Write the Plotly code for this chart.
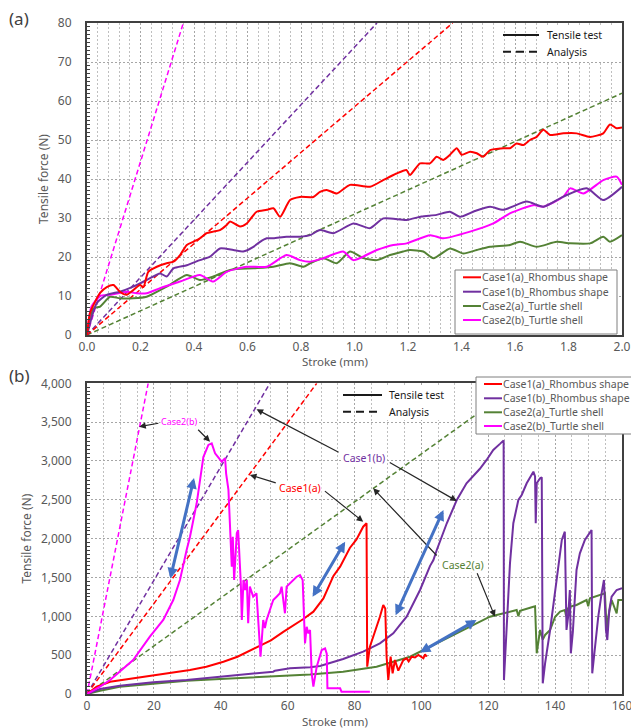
import plotly.graph_objects as go

# ======================= DATA =======================
SERIES = ["Case1(a)_Rhombus shape", "Case1(b)_Rhombus shape",
          "Case2(a)_Turtle shell", "Case2(b)_Turtle shell"]

# ---- Panel (a): stroke 0-2 mm, tensile test (stroke mm, force N)
A_CASE1A_TEST = [(0, 0), (0.011, 5.6), (0.03, 8.5), (0.049, 10.8), (0.074, 12.3), (0.099, 12.8),
                 (0.123, 11.1), (0.148, 10.3), (0.173, 11.5), (0.198, 12.8), (0.211, 12.3),
                 (0.229, 16.2), (0.261, 17.5), (0.298, 18.4), (0.323, 18.8), (0.348, 20.5),
                 (0.373, 23.1), (0.397, 23.9), (0.422, 24.8), (0.447, 26.1), (0.472, 26.5),
                 (0.497, 26.9), (0.522, 28.2), (0.535, 29.1), (0.572, 27.8), (0.597, 28.6),
                 (0.634, 31.6), (0.672, 32.1), (0.697, 32.5), (0.722, 30.3), (0.759, 34.6),
                 (0.796, 35.4), (0.846, 35.4), (0.871, 36.7), (0.896, 37.2), (0.934, 36.3),
                 (0.983, 38.5), (1.058, 38.0), (1.107, 39.7), (1.157, 41.4), (1.194, 42.3),
                 (1.207, 41.0), (1.245, 44.0), (1.282, 44.0), (1.307, 45.7), (1.332, 44.9),
                 (1.357, 46.2), (1.382, 47.9), (1.401, 46.2), (1.432, 47.0), (1.457, 46.6),
                 (1.481, 45.7), (1.507, 47.4), (1.556, 47.9), (1.581, 47.9), (1.606, 49.1),
                 (1.631, 48.7), (1.656, 50.0), (1.681, 50.8), (1.706, 52.6), (1.731, 51.3),
                 (1.781, 51.7), (1.831, 51.7), (1.880, 50.8), (1.930, 51.7), (1.955, 54.0),
                 (1.980, 53.0), (2.0, 53.2)]
A_CASE1B_TEST = [(0, 0), (0.036, 8.1), (0.074, 10.3), (0.123, 11.1), (0.173, 12.4), (0.223, 14.1),
                 (0.273, 15.8), (0.298, 15.0), (0.323, 17.1), (0.373, 17.9), (0.422, 19.2),
                 (0.460, 20.1), (0.497, 22.2), (0.547, 21.8), (0.584, 21.4), (0.622, 22.6),
                 (0.647, 23.9), (0.672, 24.8), (0.697, 24.8), (0.746, 25.2), (0.796, 25.2),
                 (0.834, 25.6), (0.871, 26.9), (0.921, 26.1), (0.996, 28.6), (1.058, 27.4),
                 (1.108, 29.9), (1.195, 29.5), (1.25, 30.4), (1.307, 30.8), (1.357, 31.6),
                 (1.394, 30.3), (1.45, 31.8), (1.507, 32.9), (1.556, 32.1), (1.644, 34.2),
                 (1.706, 32.9), (1.781, 35.5), (1.868, 37.6), (1.930, 34.6), (2.0, 38.0)]
A_CASE2A_TEST = [(0, 0), (0.024, 6.8), (0.049, 7.3), (0.086, 9.8), (0.123, 9.4), (0.173, 9.4),
                 (0.223, 9.8), (0.298, 12.4), (0.373, 15.4), (0.422, 14.1), (0.472, 15.0),
                 (0.535, 16.7), (0.622, 17.1), (0.697, 17.5), (0.759, 18.4), (0.809, 17.5),
                 (0.834, 18.4), (0.884, 19.7), (0.934, 18.4), (0.983, 21.4), (1.033, 19.7),
                 (1.083, 19.2), (1.133, 20.5), (1.182, 21.4), (1.207, 21.8), (1.257, 21.4),
                 (1.295, 19.7), (1.357, 22.2), (1.407, 20.9), (1.457, 21.8), (1.507, 22.6),
                 (1.581, 23.1), (1.619, 23.9), (1.681, 22.6), (1.756, 23.9), (1.806, 23.5),
                 (1.881, 23.5), (1.930, 25.2), (1.955, 23.9), (2.0, 25.6)]
A_CASE2B_TEST = [(0, 0), (0.017, 7.3), (0.049, 10.0), (0.086, 10.3), (0.148, 11.1), (0.186, 10.7),
                 (0.223, 10.7), (0.273, 12.0), (0.348, 13.7), (0.422, 15.4), (0.472, 13.7),
                 (0.522, 16.2), (0.597, 17.5), (0.672, 17.5), (0.746, 20.5), (0.796, 19.2),
                 (0.834, 18.8), (0.884, 19.7), (0.958, 21.4), (0.996, 19.2), (1.083, 21.8),
                 (1.145, 23.1), (1.195, 23.5), (1.283, 25.6), (1.332, 24.8), (1.432, 26.5),
                 (1.519, 28.6), (1.581, 31.2), (1.669, 33.3), (1.706, 32.9), (1.781, 35.5),
                 (1.806, 37.6), (1.856, 36.3), (1.930, 39.7), (1.980, 40.6), (2.0, 38.5)]
# analysis (linear) for panel (a)
A_CASE1A_ANA = [(0, 0), (1.367, 80)]
A_CASE1B_ANA = [(0, 0), (1.084, 80)]
A_CASE2A_ANA = [(0, 0), (2.0, 62)]
A_CASE2B_ANA = [(0, 0), (0.36, 80)]

# ---- Panel (b): stroke 0-160 mm, tensile test (stroke mm, force N)
B_CASE1A_TEST = [(0, 0), (2.9, 94), (6.9, 158), (13.8, 202), (19.8, 232), (27.8, 287), (30.8, 309),
                 (35.7, 351), (40.8, 416), (45.0, 480), (50.7, 600), (55.0, 690), (58.7, 800),
                 (64.7, 965), (67.7, 1060), (69.7, 1170), (70.7, 1230), (73.7, 1520), (75.7, 1640),
                 (78.6, 1880), (80.6, 1990), (82.6, 2154), (83.6, 2198), (83.8, 351), (84.6, 609),
                 (87.6, 995), (88.6, 1146), (89.2, 1100), (89.6, 480), (90.1, 180), (90.8, 480),
                 (91.4, 266), (92.1, 438), (93.1, 300), (93.6, 351), (94.6, 438), (95.6, 459),
                 (96.2, 420), (97.1, 480), (98.1, 470), (99.1, 502), (100.6, 459), (101.1, 510),
                 (101.6, 480)]
B_CASE1B_TEST = [(0, 0), (3.9, 64), (9.8, 107), (19.8, 150), (29.8, 180), (39.8, 223), (49.7, 266),
                 (55.7, 287), (56.2, 300), (60.7, 330), (66.7, 345), (69.7, 360), (76.6, 450),
                 (79.6, 495), (82.6, 545), (87.6, 653), (91.6, 781), (93.6, 890), (95.6, 995),
                 (99.6, 1339), (102.6, 1650), (103.6, 1725), (104.6, 1854), (107.6, 2198),
                 (110.6, 2498), (113.5, 2713), (117.5, 2900), (119.5, 3013), (121.5, 3142),
                 (123.5, 3220), (124.6, 3265), (124.7, 180), (126.5, 1682), (127.5, 2198),
                 (129.0, 2498), (130.0, 2562), (131.5, 2713), (133.5, 2862), (134.0, 2800),
                 (134.2, 2198), (134.5, 2713), (135.5, 2777), (136.0, 2790), (136.3, 138),
                 (137.0, 395), (138.5, 824), (140.0, 1339), (140.9, 1682), (142.0, 1983),
                 (142.9, 2090), (143.2, 1382), (143.4, 824), (143.9, 1000), (144.4, 1339),
                 (144.7, 524), (145.3, 800), (146.4, 1597), (147.4, 1811), (148.9, 1983),
                 (150.4, 2090), (150.9, 2111), (151.1, 266), (151.9, 609), (152.9, 995),
                 (153.9, 1296), (154.6, 1468), (155.2, 824), (155.6, 695), (156.2, 1081),
                 (156.9, 1253), (158.4, 1339), (160.0, 1361)]
B_CASE2A_TEST = [(0, 0), (3.9, 43), (9.8, 94), (19.8, 137), (29.8, 172), (39.8, 193), (49.7, 215),
                 (59.7, 236), (66.7, 250), (76.6, 287), (86.6, 351), (96.6, 480), (106.5, 695),
                 (114.5, 866), (120.5, 995), (122.5, 1017), (124.5, 1039), (128.5, 1081),
                 (129.0, 1000), (129.5, 1070), (133.5, 1124), (134.0, 1130), (134.5, 524),
                 (135.5, 824), (136.3, 700), (137.0, 760), (138.5, 824), (140.0, 995),
                 (141.5, 1060), (142.9, 1081), (143.3, 1000), (143.6, 1090), (144.4, 1124),
                 (146.4, 1146), (149.4, 1210), (149.9, 1130), (150.4, 1232), (153.4, 1275),
                 (154.9, 1296), (155.4, 824), (155.9, 995), (156.9, 1210), (158.4, 1039),
                 (158.9, 1210), (160.0, 1210)]
B_CASE2B_TEST = [(0, 0), (3.9, 94), (6.9, 180), (13.8, 438), (18.8, 738), (22.8, 953), (25.8, 1210),
                 (27.8, 1468), (29.8, 1854), (30.8, 2025), (32.8, 2455), (33.8, 2750), (34.8, 3050),
                 (36.3, 3206), (37.3, 3227), (38.3, 3099), (39.3, 3050), (40.3, 2991), (41.3, 3035),
                 (41.6, 2841), (42.3, 2627), (42.8, 2025), (43.3, 1639), (43.6, 2025), (44.0, 1468),
                 (44.8, 2069), (45.2, 2111), (46.0, 1425), (46.3, 953), (46.8, 1468), (47.3, 1339),
                 (47.8, 1468), (48.2, 910), (48.7, 1382), (49.2, 1300), (49.7, 1253), (50.7, 1296),
                 (51.9, 480), (52.7, 953), (53.2, 850), (53.7, 953), (54.7, 1081), (55.7, 1210),
                 (56.7, 1253), (57.7, 1296), (58.2, 1382), (59.2, 1039), (59.7, 1382), (61.7, 1468),
                 (62.7, 1510), (63.7, 1532), (64.5, 1468), (64.9, 995), (65.2, 653), (65.7, 866),
                 (66.2, 780), (66.7, 824), (67.2, 266), (67.7, 94), (68.7, 351), (70.2, 566),
                 (71.2, 588), (71.7, 520), (71.9, 73), (75.7, 73), (76.1, 30), (84.6, 30)]
# analysis (linear) for panel (b)
B_CASE1A_ANA = [(0, 0), (68.7, 4000)]
B_CASE1B_ANA = [(0, 0), (54.7, 4000)]
B_CASE2A_ANA = [(0, 0), (129.4, 4000)]
B_CASE2B_ANA = [(0, 0), (18.3, 4000)]

# ======================= STYLE / LAYOUT =======================
COLORS = ["#FF0000", "#7030A0", "#548235", "#FF00FF"]
FONT = "Noto Sans"
W, H = 631, 728
ML, MR, MT, MB = 87, 9, 23, 34
PW, PH = W - ML - MR, H - MT - MB


def px(x):
    """window pixel x -> paper"""
    return (x - ML) / PW


def py(y):
    """window pixel y -> paper"""
    return (H - MB - y) / PH


def split(pairs):
    return [p[0] for p in pairs], [p[1] for p in pairs]


fig = go.Figure()
A_TEST = [A_CASE1A_TEST, A_CASE1B_TEST, A_CASE2A_TEST, A_CASE2B_TEST]
A_ANA = [A_CASE1A_ANA, A_CASE1B_ANA, A_CASE2A_ANA, A_CASE2B_ANA]
B_TEST = [B_CASE1A_TEST, B_CASE1B_TEST, B_CASE2A_TEST, B_CASE2B_TEST]
B_ANA = [B_CASE1A_ANA, B_CASE1B_ANA, B_CASE2A_ANA, B_CASE2B_ANA]

for panel, (tests, anas, xa, ya) in enumerate([(A_TEST, A_ANA, "x", "y"), (B_TEST, B_ANA, "x2", "y2")]):
    for i in [2, 3, 1, 0]:
        x, y = split(anas[i])
        fig.add_trace(go.Scatter(x=x, y=y, mode="lines", xaxis=xa, yaxis=ya, showlegend=False,
                                 name=SERIES[i] + " (Analysis)",
                                 line=dict(color=COLORS[i], width=1.5, dash="5px,3px")))
    for i in [2, 3, 1, 0] if panel == 0 else [2, 1, 0, 3]:
        x, y = split(tests[i])
        fig.add_trace(go.Scatter(x=x, y=y, mode="lines", xaxis=xa, yaxis=ya, showlegend=False,
                                 name=SERIES[i] + " (Tensile test)",
                                 line=dict(color=COLORS[i], width=2,
                                           shape="spline" if panel == 0 else "linear",
                                           smoothing=0.6)))

GRID = dict(showgrid=True, gridcolor="#A6A6A6", griddash="2px,2px", gridwidth=1)
AX = dict(showline=True, linecolor="#404040", linewidth=2, mirror=True, zeroline=False,
          automargin=False, ticks="", tickfont=dict(family=FONT, size=12, color="#595959"))
ytitle = dict(text="Tensile force (N)", font=dict(family=FONT, size=12, color="#595959"), standoff=7)

fig.update_layout(
    width=W, height=H, margin=dict(l=ML, r=MR, t=MT, b=MB, autoexpand=False),
    plot_bgcolor="white", paper_bgcolor="white", font=dict(family=FONT),
    xaxis=dict(domain=[0, 1], anchor="y", range=[0, 2], dtick=0.2, tickformat=".1f",
               ticklabelstandoff=0, ticklabeloverflow="allow",
               minor=dict(dtick=0.04, showgrid=True, gridcolor="#BFBFBF", griddash="2px,2px"),
               **GRID, **AX),
    yaxis=dict(domain=[py(335), 1], anchor="x", range=[0, 80], dtick=10, title=ytitle,
               ticklabelstandoff=11,
               minor=dict(dtick=1, ticks="inside", ticklen=3, tickcolor="#404040", showgrid=False),
               **GRID, **AX),
    xaxis2=dict(domain=[0, 1], anchor="y2", range=[0, 160], dtick=20, tickformat="d",
                ticklabelstandoff=0, ticklabeloverflow="allow",
                minor=dict(dtick=5, showgrid=True, gridcolor="#BFBFBF", griddash="2px,2px"),
                **GRID, **AX),
    yaxis2=dict(domain=[0, py(383.3)], anchor="x2", range=[0, 4000], dtick=500, tickformat=",",
                title=ytitle, ticklabelstandoff=11,
                minor=dict(dtick=50, ticks="inside", ticklen=3, tickcolor="#404040", showgrid=False),
                **GRID, **AX),
)

shapes, annos = [], []


def rect(x0, y0, x1, y1, border=True):
    shapes.append(dict(type="rect", xref="paper", yref="paper", layer="above",
                       x0=px(x0), x1=px(x1), y0=py(y1), y1=py(y0), fillcolor="white",
                       line=dict(color="#7F7F7F" if border else "rgba(0,0,0,0)", width=1)))


def item(x0, x1, yc, text, color, dash, size, tcolor, tx):
    shapes.append(dict(type="line", xref="paper", yref="paper", layer="above",
                       x0=px(x0), x1=px(x1), y0=py(yc), y1=py(yc),
                       line=dict(color=color, width=2, dash=dash)))
    annos.append(dict(xref="paper", yref="paper", x=px(tx), y=py(yc), text=text, showarrow=False,
                      xanchor="left", yanchor="middle",
                      font=dict(family=FONT, size=size, color=tcolor)))


# Panel (a) legends
rect(543, 26, 620, 62, border=False)
item(503, 539, 35, "Tensile test", "#1A1A1A", "solid", 10.5, "#1A1A1A", 545)
item(503, 539, 51.7, "Analysis", "#1A1A1A", "8px,5px", 10.5, "#1A1A1A", 545)
rect(455, 270, 617, 334)
for k, yc in enumerate([277.3, 291.7, 306, 320]):
    item(463, 481, yc, SERIES[k], COLORS[k], "solid", 10.5, "#595959", 480)

# Panel (b) legends
rect(387, 386, 447, 420, border=False)
item(343, 382, 395, "Tensile test", "#1A1A1A", "solid", 10.5, "#1A1A1A", 387)
item(343, 382, 411.7, "Analysis", "#1A1A1A", "8px,5px", 10.5, "#1A1A1A", 387)
rect(476, 377, 645, 434)
for k, yc in enumerate([384, 398.3, 412.3, 426]):
    item(484, 502, yc, SERIES[k], COLORS[k], "solid", 10.5, "#595959", 501)

# panel labels and x-axis titles
for txt, xx, yy in [("(a)", 19, 19), ("(b)", 19, 375.5)]:
    annos.append(dict(xref="paper", yref="paper", x=px(xx), y=py(yy), text=txt, showarrow=False,
                      xanchor="center", yanchor="middle", font=dict(family=FONT, size=17, color="#404040")))
for yy in [361, 721]:
    annos.append(dict(xref="paper", yref="paper", x=px(335), y=py(yy), text="Stroke (mm)",
                      showarrow=False, xanchor="center", yanchor="middle",
                      font=dict(family=FONT, size=11.5, color="#595959")))

# Panel (b) case labels (text) and pointer arrows (data coords of panel b)
LABELS = [("Case2(b)", 27.8, 3508, COLORS[3], 9),
          ("Case1(a)", 63.8, 2656, COLORS[0], 10.5),
          ("Case1(b)", 82.8, 3034, COLORS[1], 10.5),
          ("Case2(a)", 112.3, 1661, COLORS[2], 10.5)]
for t, xx, yy, c, s in LABELS:
    annos.append(dict(xref="x2", yref="y2", x=xx, y=yy, text=t, showarrow=False, bgcolor="white",
                      borderpad=0, font=dict(family=FONT, size=s, color=c)))

POINTERS = [((21.8, 3489), (15.6, 3442)), ((32.8, 3421), (36.8, 3248)),
            ((56.9, 2712), (48.7, 2820)), ((70.7, 2627), (82.6, 2218)),
            ((75.7, 3103), (50.7, 3665)), ((90.1, 2991), (110.6, 2485)),
            ((105.0, 1764), (85.6, 2648)), ((116.5, 1575), (122.0, 995))]
for (tx, ty), (hx, hy) in POINTERS:
    annos.append(dict(xref="x2", yref="y2", axref="x2", ayref="y2", x=hx, y=hy, ax=tx, ay=ty,
                      text="", showarrow=True, arrowhead=2, arrowsize=1.1, arrowwidth=1.2,
                      arrowcolor="#262626", standoff=0))

BLUE = [((24.8, 1468), (32.0, 2781)), ((67.2, 1232), (77.2, 1961)),
        ((92.1, 995), (106.6, 2369)), ((99.1, 524), (116.5, 953))]
for (tx, ty), (hx, hy) in BLUE:
    annos.append(dict(xref="x2", yref="y2", axref="x2", ayref="y2", x=hx, y=hy, ax=tx, ay=ty,
                      text="", showarrow=True, arrowside="end+start", arrowhead=2, startarrowhead=2,
                      arrowsize=0.7, startarrowsize=0.7, arrowwidth=3, arrowcolor="#4472C4",
                      standoff=0, startstandoff=0))

fig.update_layout(shapes=shapes, annotations=annos)
# the page's default body margin would shift the 631x728 figure; remove it
fig.write_html("out.html", config={"displayModeBar": False},
               post_script="document.body.style.margin='0';")
